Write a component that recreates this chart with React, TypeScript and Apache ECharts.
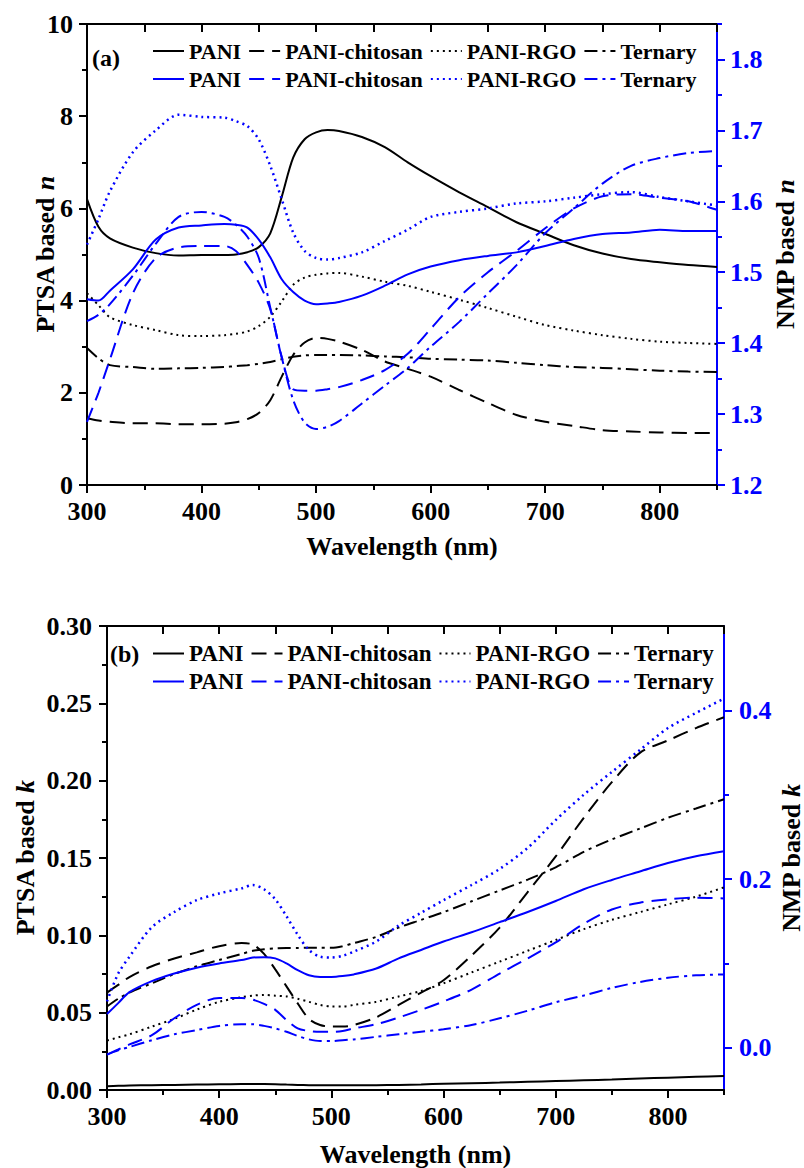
import React, { useEffect, useRef } from 'react';
import * as echarts from 'echarts';

// ---------- data ----------
const wavelength = [300, 310, 320, 340, 360, 380, 400, 420, 430, 440, 450, 460, 470, 480, 490, 500, 510, 520, 540, 560, 580, 600, 625, 650, 675, 700, 725, 750, 775, 800, 825, 850];

// (a) refractive index n, PTSA based (left axis)
const ptsaPaniN = [6.2, 5.6, 5.35, 5.15, 5.03, 4.98, 4.99, 4.99, 5.0, 5.05, 5.16, 5.46, 6.25, 7.1, 7.5, 7.65, 7.7, 7.68, 7.55, 7.33, 7.0, 6.7, 6.35, 6.03, 5.7, 5.45, 5.2, 5.02, 4.9, 4.83, 4.77, 4.73];
const ptsaChitosanN = [1.45, 1.4, 1.37, 1.34, 1.34, 1.32, 1.32, 1.33, 1.36, 1.43, 1.56, 1.84, 2.35, 2.82, 3.09, 3.19, 3.17, 3.11, 2.93, 2.68, 2.52, 2.35, 2.06, 1.78, 1.52, 1.37, 1.28, 1.19, 1.16, 1.14, 1.13, 1.13];
const ptsaRgoN = [4.16, 3.9, 3.64, 3.47, 3.36, 3.25, 3.23, 3.25, 3.28, 3.33, 3.45, 3.65, 3.98, 4.34, 4.5, 4.56, 4.59, 4.6, 4.52, 4.41, 4.32, 4.19, 4.02, 3.84, 3.65, 3.47, 3.35, 3.25, 3.17, 3.11, 3.08, 3.06];
const ptsaTernaryN = [2.97, 2.75, 2.6, 2.56, 2.52, 2.53, 2.54, 2.56, 2.58, 2.6, 2.63, 2.67, 2.73, 2.78, 2.81, 2.82, 2.82, 2.82, 2.81, 2.79, 2.77, 2.74, 2.72, 2.7, 2.65, 2.6, 2.56, 2.54, 2.51, 2.48, 2.46, 2.45];
// (a) refractive index n, NMP based (right axis)
const nmpPaniN = [1.462, 1.46, 1.474, 1.504, 1.546, 1.563, 1.566, 1.568, 1.567, 1.563, 1.546, 1.521, 1.49, 1.472, 1.46, 1.455, 1.456, 1.458, 1.467, 1.481, 1.497, 1.508, 1.517, 1.523, 1.528, 1.537, 1.547, 1.554, 1.556, 1.56, 1.558, 1.558];
const nmpChitosanN = [1.289, 1.33, 1.377, 1.47, 1.52, 1.535, 1.537, 1.537, 1.53, 1.51, 1.485, 1.448, 1.38, 1.335, 1.333, 1.333, 1.335, 1.338, 1.348, 1.362, 1.385, 1.42, 1.465, 1.5, 1.53, 1.562, 1.59, 1.607, 1.61, 1.605, 1.6, 1.588];
const nmpRgoN = [1.539, 1.575, 1.614, 1.669, 1.7, 1.722, 1.719, 1.718, 1.713, 1.706, 1.687, 1.65, 1.603, 1.556, 1.53, 1.52, 1.518, 1.52, 1.528, 1.544, 1.56, 1.578, 1.585, 1.59, 1.597, 1.6, 1.605, 1.61, 1.613, 1.606, 1.6, 1.594];
const nmpTernaryN = [1.431, 1.44, 1.455, 1.495, 1.54, 1.578, 1.585, 1.578, 1.567, 1.55, 1.52, 1.45, 1.38, 1.32, 1.288, 1.279, 1.282, 1.29, 1.315, 1.34, 1.365, 1.395, 1.43, 1.47, 1.51, 1.555, 1.59, 1.625, 1.65, 1.661, 1.668, 1.671];

// (b) extinction coefficient k, PTSA based (left axis)
const ptsaPaniK = [0.0025, 0.0027, 0.0029, 0.0031, 0.0033, 0.0035, 0.0037, 0.0038, 0.0038, 0.0038, 0.0037, 0.0035, 0.0033, 0.0031, 0.003, 0.003, 0.003, 0.003, 0.0031, 0.0033, 0.0036, 0.004, 0.0044, 0.0048, 0.0053, 0.0058, 0.0063, 0.0068, 0.0074, 0.008, 0.0085, 0.009];
const ptsaChitosanK = [0.063, 0.068, 0.073, 0.08, 0.085, 0.089, 0.093, 0.095, 0.094, 0.088, 0.078, 0.067, 0.056, 0.046, 0.042, 0.041, 0.041, 0.042, 0.047, 0.055, 0.063, 0.071, 0.087, 0.105, 0.128, 0.151, 0.176, 0.199, 0.218, 0.226, 0.234, 0.241];
const ptsaRgoK = [0.032, 0.034, 0.036, 0.041, 0.046, 0.052, 0.057, 0.06, 0.061, 0.0615, 0.061, 0.0605, 0.059, 0.057, 0.055, 0.054, 0.054, 0.055, 0.057, 0.0605, 0.064, 0.069, 0.076, 0.083, 0.09, 0.097, 0.104, 0.11, 0.115, 0.12, 0.125, 0.131];
const ptsaTernaryK = [0.054, 0.059, 0.063, 0.069, 0.075, 0.08, 0.084, 0.088, 0.09, 0.091, 0.0915, 0.0918, 0.0918, 0.092, 0.092, 0.092, 0.093, 0.095, 0.099, 0.105, 0.11, 0.115, 0.122, 0.129, 0.136, 0.144, 0.154, 0.162, 0.169, 0.176, 0.182, 0.188];
// (b) extinction coefficient k, NMP based (right axis)
const nmpPaniK = [0.04, 0.053, 0.066, 0.079, 0.088, 0.095, 0.1, 0.104, 0.107, 0.1075, 0.106, 0.1, 0.092, 0.086, 0.084, 0.084, 0.085, 0.087, 0.094, 0.106, 0.116, 0.126, 0.137, 0.149, 0.161, 0.174, 0.188, 0.199, 0.209, 0.219, 0.227, 0.233];
const nmpChitosanK = [-0.008, -0.002, 0.004, 0.015, 0.035, 0.051, 0.059, 0.059, 0.057, 0.052, 0.045, 0.033, 0.023, 0.02, 0.019, 0.019, 0.02, 0.023, 0.028, 0.036, 0.045, 0.055, 0.069, 0.088, 0.106, 0.125, 0.147, 0.164, 0.172, 0.176, 0.178, 0.177];
const nmpRgoK = [0.055, 0.088, 0.108, 0.143, 0.161, 0.175, 0.183, 0.189, 0.193, 0.188, 0.176, 0.156, 0.134, 0.116, 0.108, 0.107, 0.109, 0.114, 0.126, 0.145, 0.16, 0.175, 0.193, 0.212, 0.237, 0.27, 0.3, 0.327, 0.353, 0.379, 0.397, 0.414];
const nmpTernaryK = [-0.008, -0.003, 0.001, 0.009, 0.016, 0.021, 0.026, 0.028, 0.028, 0.026, 0.023, 0.019, 0.014, 0.01, 0.008, 0.008, 0.009, 0.01, 0.013, 0.016, 0.019, 0.022, 0.027, 0.035, 0.044, 0.054, 0.062, 0.071, 0.078, 0.083, 0.086, 0.087];

const sampleNames = ['PANI', 'PANI-chitosan', 'PANI-RGO', 'Ternary'];

// ---------- ticks ----------
const xLabelTicks = [300, 400, 500, 600, 700, 800];
const xMinorTicks = [350, 450, 550, 650, 750, 850];
const xTopTicks = [300, 350, 400, 450, 500, 550, 600, 650, 700, 750, 800, 850];
const aLeftTicks = [0, 2, 4, 6, 8, 10];
const aLeftMinor = [1, 3, 5, 7, 9];
const aRightTicks = [1.2, 1.3, 1.4, 1.5, 1.6, 1.7, 1.8];
const aRightMinor = [1.25, 1.35, 1.45, 1.55, 1.65, 1.75, 1.85];
const bLeftTicks = [0, 0.05, 0.1, 0.15, 0.2, 0.25, 0.3];
const bLeftMinor = [0.025, 0.075, 0.125, 0.175, 0.225, 0.275];
const bRightTicks = [0, 0.2, 0.4];
const bRightMinor = [0.1, 0.3];

const FONT = '"Liberation Serif", "Times New Roman", serif';
const BLUE = '#0000ff';
const BLACK = '#000000';

const DASH = {
  solid: 'solid',
  dashed: [15, 8],
  dotted: [2, 4],
  dashdot: [13, 5, 3, 5],
};

function textStyle(size: number, color = BLACK) {
  return { fontFamily: FONT, fontWeight: 'bold', fontSize: size, color };
}

function mainXAxis(grid: number, nameGap: number) {
  return {
    type: 'value', gridIndex: grid, position: 'bottom', min: 300, max: 850,
    name: 'Wavelength (nm)', nameLocation: 'middle', nameGap, nameMoveOverlap: false,
    nameTextStyle: textStyle(26),
    axisLine: { show: true, onZero: false, lineStyle: { color: BLACK, width: 2 } },
    axisTick: { show: true, customValues: xLabelTicks, length: 8, lineStyle: { color: BLACK, width: 2 } },
    axisLabel: { show: true, customValues: xLabelTicks, margin: 13, ...textStyle(26) },
    splitLine: { show: false },
  };
}
function minorXAxis(grid: number) {
  return {
    type: 'value', gridIndex: grid, position: 'bottom', min: 300, max: 850,
    axisLine: { show: false, onZero: false },
    axisTick: { show: true, customValues: xMinorTicks, length: 5, lineStyle: { color: BLACK, width: 2 } },
    axisLabel: { show: false },
    splitLine: { show: false },
  };
}
function topXAxis(grid: number) {
  return {
    type: 'value', gridIndex: grid, position: 'top', min: 300, max: 850,
    axisLine: { show: true, onZero: false, lineStyle: { color: BLACK, width: 2 } },
    axisTick: { show: true, inside: true, customValues: xTopTicks, length: 8, lineStyle: { color: BLACK, width: 2 } },
    axisLabel: { show: false },
    splitLine: { show: false },
  };
}
function yAxisMain(opts: any) {
  const { grid, pos, min, max, ticks, decimals, color, name, nameGap, margin } = opts;
  return {
    type: 'value', gridIndex: grid, position: pos, min, max,
    name, nameLocation: 'middle', nameGap, nameRotate: 90, nameMoveOverlap: false,
    nameTextStyle: {
      rich: {
        r: textStyle(26),
        i: { ...textStyle(26), fontStyle: 'italic' },
      },
    },
    axisLine: { show: true, onZero: false, lineStyle: { color, width: 2 } },
    axisTick: { show: true, customValues: ticks, length: 8, lineStyle: { color, width: 2 } },
    axisLabel: {
      show: true, customValues: ticks, margin,
      formatter: (v: number) => v.toFixed(decimals),
      ...textStyle(26, color),
    },
    splitLine: { show: false },
  };
}
function yAxisMinor(grid: number, pos: string, min: number, max: number, ticks: number[], color: string) {
  return {
    type: 'value', gridIndex: grid, position: pos, min, max,
    axisLine: { show: false, onZero: false },
    axisTick: { show: true, customValues: ticks, length: 5, lineStyle: { color, width: 2 } },
    axisLabel: { show: false },
    splitLine: { show: false },
  };
}

function lineSeries(id: string, values: number[], xi: number, yi: number, color: string, dash: any, width = 2) {
  return {
    type: 'line', name: id, xAxisIndex: xi, yAxisIndex: yi,
    data: wavelength.map((w, i) => [w, values[i]]),
    symbol: 'none', showSymbol: false, smooth: 0.3, silent: true,
    color,
    lineStyle: { color, width, type: dash },
    itemStyle: { color },
  };
}

function legendRow(prefix: string, left: number, top: number, size: number, gap: number) {
  return {
    show: true, orient: 'horizontal', left, top, padding: 0,
    itemWidth: 31, itemHeight: 14, itemGap: gap, selectedMode: false,
    data: sampleNames.map((n) => prefix + n),
    formatter: (name: string) => name.slice(prefix.length),
    textStyle: textStyle(size),
    itemStyle: { opacity: 0 },
  };
}

export default function App() {
  const ref = useRef<HTMLDivElement>(null);
  useEffect(() => {
    if (!ref.current) return;
    const chart = echarts.init(ref.current, undefined, { renderer: 'svg' });
    const dashes = [DASH.solid, DASH.dashed, DASH.dotted, DASH.dashdot];
    const series: any[] = [];
    const aBlack = [ptsaPaniN, ptsaChitosanN, ptsaRgoN, ptsaTernaryN];
    const aBlue = [nmpPaniN, nmpChitosanN, nmpRgoN, nmpTernaryN];
    const bBlack = [ptsaPaniK, ptsaChitosanK, ptsaRgoK, ptsaTernaryK];
    const bBlue = [nmpPaniK, nmpChitosanK, nmpRgoK, nmpTernaryK];
    sampleNames.forEach((n, i) => series.push(lineSeries('a1 ' + n, aBlack[i], 0, 0, BLACK, dashes[i])));
    sampleNames.forEach((n, i) => series.push(lineSeries('a2 ' + n, aBlue[i], 0, 2, BLUE, dashes[i], i === 2 ? 2.5 : 2)));
    sampleNames.forEach((n, i) => series.push(lineSeries('b1 ' + n, bBlack[i], 3, 4, BLACK, dashes[i])));
    sampleNames.forEach((n, i) => series.push(lineSeries('b2 ' + n, bBlue[i], 3, 6, BLUE, dashes[i], i === 2 ? 2.5 : 2)));

    chart.setOption({
      animation: false,
      backgroundColor: '#ffffff',
      grid: [
        { left: 87, top: 24, width: 630, height: 461, containLabel: false, outerBoundsMode: 'none' },
        { left: 107, top: 626, width: 617, height: 464, containLabel: false, outerBoundsMode: 'none' },
      ],
      xAxis: [
        mainXAxis(0, 48), minorXAxis(0), topXAxis(0),
        mainXAxis(1, 51), minorXAxis(1), topXAxis(1),
      ],
      yAxis: [
        yAxisMain({ grid: 0, pos: 'left', min: 0, max: 10, ticks: aLeftTicks, decimals: 0, color: BLACK, name: '{r|PTSA based }{i|n}', nameGap: 29, margin: 14 }),
        yAxisMinor(0, 'left', 0, 10, aLeftMinor, BLACK),
        yAxisMain({ grid: 0, pos: 'right', min: 1.2, max: 1.85, ticks: aRightTicks, decimals: 1, color: BLUE, name: '{r|NMP based }{i|n}', nameGap: 55, margin: 13 }),
        yAxisMinor(0, 'right', 1.2, 1.85, aRightMinor, BLUE),
        yAxisMain({ grid: 1, pos: 'left', min: 0, max: 0.3, ticks: bLeftTicks, decimals: 2, color: BLACK, name: '{r|PTSA based }{i|k}', nameGap: 69, margin: 15 }),
        yAxisMinor(1, 'left', 0, 0.3, bLeftMinor, BLACK),
        yAxisMain({ grid: 1, pos: 'right', min: -0.05, max: 0.5, ticks: bRightTicks, decimals: 1, color: BLUE, name: '{r|NMP based }{i|k}', nameGap: 54, margin: 15 }),
        yAxisMinor(1, 'right', -0.05, 0.5, bRightMinor, BLUE),
      ],
      legend: [
        legendRow('a1 ', 152, 40, 22, 7),
        legendRow('a2 ', 152, 68, 22, 7),
        legendRow('b1 ', 152, 642, 23, 7),
        legendRow('b2 ', 152, 670, 23, 7),
      ],
      graphic: [
        { type: 'text', left: 92, top: 46, silent: true, style: { text: '(a)', font: `bold 24px ${FONT}`, fill: BLACK } },
        { type: 'text', left: 110, top: 642, silent: true, style: { text: '(b)', font: `bold 24px ${FONT}`, fill: BLACK } },
      ],
      series,
    });
    return () => chart.dispose();
  }, []);
  return <div ref={ref} style={{ position: 'absolute', left: 0, top: 0, width: 804, height: 1168 }} />;
}
